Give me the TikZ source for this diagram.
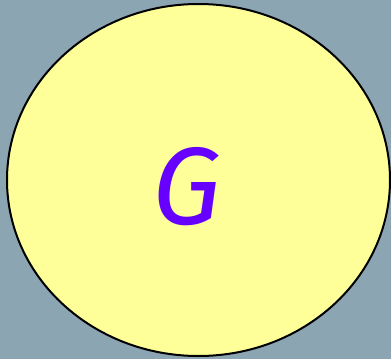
\documentclass[tikz,border=0pt]{standalone}
\usepackage{fontspec}
\newfontfamily\gfont{Fira Sans}
\definecolor{bgc}{HTML}{8CA5B2}
\definecolor{ell}{HTML}{FFFF99}
\definecolor{gcol}{HTML}{6600FF}
\begin{document}
\begin{tikzpicture}[x=1pt,y=-1pt]
\fill[bgc] (0,0) rectangle (391,359);
\useasboundingbox (0,0) rectangle (391,359);
\draw[fill=ell,line width=2pt] (198.5,180) ellipse [x radius=191.5, y radius=176];
\node[text=gcol,font=\gfont\itshape\fontsize{110}{110}\selectfont,inner sep=0pt] (g) at (187,187) {G};
\end{tikzpicture}
\end{document}
